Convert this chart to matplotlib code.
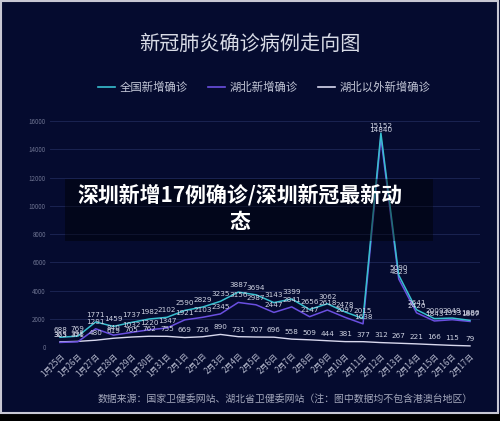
import matplotlib.pyplot as plt
from matplotlib.lines import Line2D
from matplotlib.patches import Rectangle

plt.rcParams['font.family'] = ['Noto Sans CJK SC', 'DejaVu Sans']

fechas = ['1月25日', '1月26日', '1月27日', '1月28日', '1月29日', '1月30日', '1月31日',
          '2月1日', '2月2日', '2月3日', '2月4日', '2月5日', '2月6日', '2月7日',
          '2月8日', '2月9日', '2月10日', '2月11日', '2月12日', '2月13日', '2月14日',
          '2月15日', '2月16日', '2月17日']
quanguo = [688, 769, 1771, 1459, 1737, 1982, 2102, 2590, 2829, 3235, 3887, 3694,
           3143, 3399, 2656, 3062, 2478, 2015, 15152, 5090, 2641, 2009, 2048, 1886]
hubei = [323, 371, 1291, 840, 1032, 1220, 1347, 1921, 2103, 2345, 3156, 2987,
         2447, 2841, 2147, 2618, 2097, 1638, 14840, 4823, 2420, 1843, 1933, 1807]
hubei_fuera = [365, 398, 480, 619, 705, 762, 755, 669, 726, 890, 731, 707,
               696, 558, 509, 444, 381, 377, 312, 267, 221, 166, 115, 79]

fondo = '#050b2f'
c_quanguo = '#38bfcf'
c_hubei = '#6a4fe0'
c_fuera = '#d8d8ee'
c_etiqueta = '#cfd3e2'

fig = plt.figure(figsize=(5, 4.21), dpi=100)
fig.patch.set_facecolor(fondo)
ax = fig.add_axes([0.10, (421 - 347) / 421, 0.86, (347 - 114) / 421])
ax.set_facecolor(fondo)

x = range(len(fechas))
ax.plot(x, hubei_fuera, color=c_fuera, lw=1.0, zorder=3)
ax.plot(x, hubei, color=c_hubei, lw=1.1, zorder=4)
ax.plot(x, quanguo, color=c_quanguo, lw=1.1, zorder=5)

# etiquetas de valor encima de cada punto
for serie in (quanguo, hubei, hubei_fuera):
    for i, v in enumerate(serie):
        ax.annotate(str(v), (i, v), xytext=(0, 3), textcoords='offset points',
                    ha='center', va='bottom', fontsize=5.2, color=c_etiqueta,
                    family='DejaVu Sans', zorder=6)

ax.set_xlim(-0.56, 23.56)
ax.set_ylim(0, 16500)
ax.set_yticks(range(0, 16001, 2000))
ax.set_xticks(list(x))
ax.set_xticklabels(fechas, rotation=45, ha='right', rotation_mode='anchor',
                   fontsize=5.8, color='#b4b8cc')
ax.tick_params(axis='y', labelsize=4.5, labelcolor='#6c7290', length=0, pad=3)
ax.tick_params(axis='x', length=0, pad=3)
ax.grid(axis='y', color='#1a2352', lw=0.7)
ax.set_axisbelow(True)
for s in ax.spines.values():
    s.set_visible(False)

fig.text(0.5, 1 - 44 / 421, '新冠肺炎确诊病例走向图', ha='center', va='center',
         fontsize=14.5, color='#d8dbe6')

leyenda = [('全国新增确诊', c_quanguo, 98), ('湖北新增确诊', c_hubei, 208),
           ('湖北以外新增确诊', c_fuera, 318)]
for texto, color, x0 in leyenda:
    ly = 1 - 87 / 421
    fig.add_artist(Line2D([x0 / 500, (x0 + 17) / 500], [ly, ly], color=color, lw=1.2))
    fig.text((x0 + 22) / 500, ly, texto, ha='left', va='center', fontsize=8.2,
             color='#c4c8d8')

fig.text(473 / 500, 1 - 399 / 421,
         '数据来源：国家卫健委网站、湖北省卫健委网站（注：图中数据均不包含港澳台地区）',
         ha='right', va='center', fontsize=7.1, color='#a4a8bc')

# recuadro superpuesto con el titular
fig.add_artist(Rectangle((65 / 500, 1 - 241 / 421), 368 / 500, 62 / 421,
                         transform=fig.transFigure, facecolor='black', alpha=0.42,
                         edgecolor='none', zorder=8))
fig.text(240 / 500, 1 - 195 / 421, '深圳新增17例确诊/深圳新冠最新动',
         ha='center', va='center', fontsize=15, fontweight='bold', color='white', zorder=9)
fig.text(240 / 500, 1 - 221 / 421, '态', ha='center', va='center', fontsize=15,
         fontweight='bold', color='white', zorder=9)

# marco y franja inferior
fig.add_artist(Rectangle((0, 0), 1, 8 / 421, transform=fig.transFigure,
                         facecolor='black', edgecolor='none', zorder=10))
fig.add_artist(Rectangle((0.001, 8 / 421), 0.995, 1 - 8 / 421 - 0.002,
                         transform=fig.transFigure, facecolor='none',
                         edgecolor='#c8c8d4', lw=1.5, zorder=10))

plt.savefig('out.png', dpi=100, facecolor=fondo)
